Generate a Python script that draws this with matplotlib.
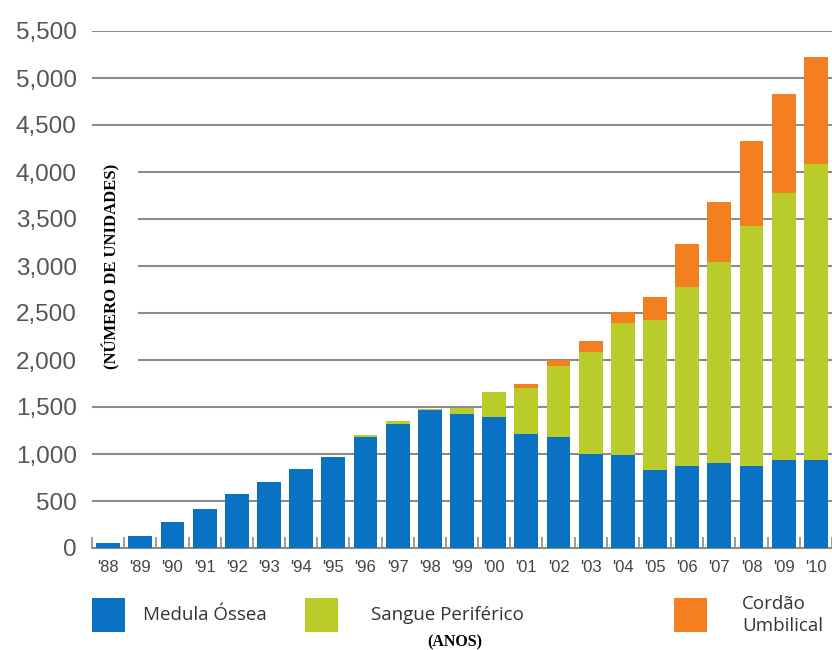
import numpy as np
import matplotlib.pyplot as plt
from matplotlib.patches import Rectangle
from matplotlib.ticker import FuncFormatter

# Anos e unidades por fonte de células
anos = ["'88", "'89", "'90", "'91", "'92", "'93", "'94", "'95", "'96", "'97", "'98", "'99",
        "'00", "'01", "'02", "'03", "'04", "'05", "'06", "'07", "'08", "'09", "'10"]
medula = [50, 130, 280, 420, 570, 700, 840, 970, 1180, 1320, 1470, 1425,
          1390, 1210, 1180, 1000, 990, 830, 870, 900, 870, 940, 940]
sangue = [0, 0, 0, 0, 0, 0, 0, 0, 20, 30, 10, 65,
          270, 490, 760, 1090, 1405, 1595, 1910, 2140, 2560, 2840, 3145]
cordao = [0, 0, 0, 0, 0, 0, 0, 0, 0, 0, 0, 0,
          0, 45, 60, 110, 115, 240, 450, 640, 900, 1050, 1140]

series = ["Medula Óssea", "Sangue Periférico", "Cordão\nUmbilical"]
colors = ["#0a72c2", "#b9cc2a", "#f47f20"]

fig = plt.figure(figsize=(8.32, 6.5), dpi=100)
ax = fig.add_axes([92 / 832, 1 - 548 / 650, 1 - 92 / 832, 517 / 650])

x = np.arange(len(anos))
bottom = np.zeros(len(anos))
for vals, c in zip([medula, sangue, cordao], colors):
    ax.bar(x, vals, 0.74, bottom=bottom, color=c, zorder=2)
    bottom += np.array(vals)

ax.set_xlim(-0.48, 22.29)
ax.set_ylim(0, 5500)
ax.set_yticks(np.arange(0, 5501, 500))
ax.yaxis.set_major_formatter(FuncFormatter(lambda v, p: f"{int(v):,}"))
ax.set_xticks(x)
ax.set_xticklabels(anos)
ax.set_xticks(np.arange(-0.5, len(anos), 1), minor=True)

for s in ax.spines.values():
    s.set_visible(False)
ax.set_axisbelow(True)
ax.yaxis.grid(True, color="#8c8c8c", lw=1.5, zorder=0)
ax.axhline(0, color="#8c8c8c", lw=1.5, zorder=0, clip_on=False)

ax.tick_params(axis="y", length=0, pad=11, labelsize=17.5, labelcolor="#555555")
ax.tick_params(axis="x", which="major", length=0, pad=9, labelsize=12, labelcolor="#444444")
ax.tick_params(axis="x", which="minor", direction="in", length=8, width=1.2, color="#8c8c8c")
for lab in ax.get_yticklabels() + ax.get_xticklabels():
    lab.set_family("Liberation Sans")

# faixa branca atrás do rótulo vertical
ax.add_patch(Rectangle((0, 1750), 0.062, 2500, transform=ax.get_yaxis_transform(),
                       facecolor="white", edgecolor="none", zorder=1))
fig.text(111 / 832, 1 - 266 / 650, "(NÚMERO DE UNIDADES)", rotation=90,
         ha="center", va="center", family="Liberation Serif", weight="bold", fontsize=12)
fig.text(455 / 832, 1 - 642 / 650, "(ANOS)", ha="center", va="center",
         family="Liberation Serif", weight="bold", fontsize=11.5)

# legenda
box_x = [92, 305, 674]
text_x = [143, 371, 742]
for bx, tx, lab, c in zip(box_x, text_x, series, colors):
    fig.patches.append(Rectangle((bx / 832, 1 - 632 / 650), 33 / 832, 34 / 650,
                                 transform=fig.transFigure, facecolor=c, edgecolor="none"))
    fig.text(tx / 832, 1 - 615 / 650, lab, ha="left", va="center", family="Open Sans",
             fontsize=13.5, color="#333333", linespacing=1.3)

fig.savefig("out.png", dpi=100)
